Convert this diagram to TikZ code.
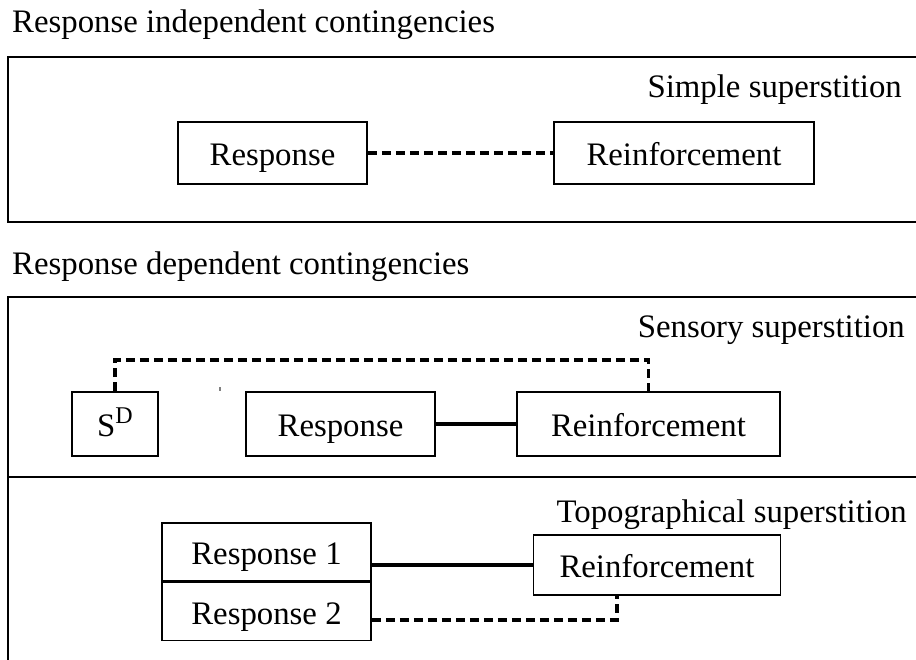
\documentclass[tikz,border=0pt]{standalone}
\usepackage{fontspec}
\setmainfont{Liberation Serif}
\usetikzlibrary{positioning}
\begin{document}
\begin{tikzpicture}[x=1pt,y=-1pt]
  \tikzset{every node/.style={font=\fontsize{32.8}{39}\selectfont,inner sep=0pt},
           box/.style={draw,line width=1.6pt,text height=25pt,text depth=0pt},
           frame/.style={line width=1.6pt},
           dashlink/.style={line width=3.8pt,dash pattern=on 9pt off 5pt},
           solidlink/.style={line width=3.8pt}}
  \clip (0,0) rectangle (916,660);
  % panels
  \draw[frame] (8,57) rectangle (940,222);
  \draw[frame] (8,297) rectangle (940,700);
  \draw[frame] (8,477) -- (940,477);
  \node[anchor=base west] (indep) at (12,33) {Response independent contingencies};
  \node[anchor=base west] (dep) at (12,275) {Response dependent contingencies};
  \node[anchor=base east] (simple) at (902,98) {Simple superstition};
  \node[anchor=base east] (sensory) at (905,338) {Sensory superstition};
  \node[anchor=base east] (topo) at (907,522) {Topographical superstition};
  % simple superstition
  \node[box,minimum width=189pt,minimum height=62pt] (resp1) at (272.5,153) {Response};
  \node[box,minimum width=260pt,minimum height=62pt] (reinf1) at (684,153) {Reinforcement};
  \draw[dashlink] (resp1.east) -- (reinf1.west);
  % sensory superstition
  \node[box,minimum width=86pt,minimum height=64pt] (sd) at (115,424)
    {S\raisebox{13pt}{\fontsize{24}{24}\selectfont D}};
  \node[box,minimum width=189pt,minimum height=64pt] (resp2) at (340.5,424) {Response};
  \node[box,minimum width=263pt,minimum height=64pt] (reinf2) at (648.5,424) {Reinforcement};
  \coordinate (link) at (380,360);
  \draw[solidlink] (resp2.east) -- (reinf2.west);
  \draw[dashlink] (sd.north) -- (sd.north |- link) -| (reinf2.north);
  \draw[gray,line width=1.5pt] (220,387) -- (220,391);
  % topographical superstition
  \node[box,minimum width=209pt,minimum height=58pt] (r1) at (266.5,552) {Response 1};
  \node[box,minimum width=209pt,minimum height=58pt,below=0pt of r1] (r2) {Response 2};
  \node[box,minimum width=247pt,minimum height=60pt] (reinf3) at (657,565) {Reinforcement};
  \draw[solidlink] (reinf3.west -| r1.east) -- (reinf3.west);
  \draw[dashlink] ([yshift=-8pt]r2.east) -| ([xshift=-40pt]reinf3.south);
\end{tikzpicture}
\end{document}
